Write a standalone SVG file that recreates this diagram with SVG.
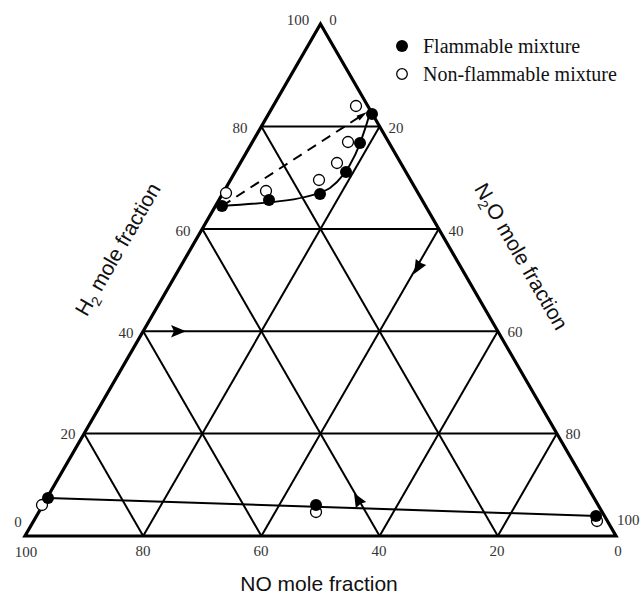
<svg xmlns="http://www.w3.org/2000/svg" width="640" height="595" viewBox="0 0 640 595">
<style>
.tick{font-family:"Liberation Serif",serif;font-size:15px;fill:#333}
.leg{font-family:"Liberation Serif",serif;font-size:20px;fill:#111}
.ax{font-family:"Liberation Sans",Arial,sans-serif;font-size:21px;fill:#111}
.grid{stroke:#000;stroke-width:2;fill:none}
.fr{stroke:#000;stroke-width:3.2;fill:none;stroke-linejoin:miter}
.f{fill:#000}
.o{fill:#fff;stroke:#000;stroke-width:1.3}
.cv{stroke:#000;stroke-width:2;fill:none}
.ah{fill:#000}
</style>
<rect width="640" height="595" fill="#fff"/>
<g id="grid">
<line class="grid" x1="84.1" y1="433.6" x2="556.9" y2="433.6"/>
<line class="grid" x1="143.2" y1="331.3" x2="497.8" y2="331.3"/>
<line class="grid" x1="202.3" y1="228.9" x2="438.7" y2="228.9"/>
<line class="grid" x1="261.4" y1="126.6" x2="379.6" y2="126.6"/>
<line class="grid" x1="143.2" y1="536" x2="379.6" y2="126.6"/>
<line class="grid" x1="261.4" y1="536" x2="438.7" y2="228.9"/>
<line class="grid" x1="379.6" y1="536" x2="497.8" y2="331.3"/>
<line class="grid" x1="497.8" y1="536" x2="556.9" y2="433.6"/>
<line class="grid" x1="497.8" y1="536" x2="261.4" y2="126.6"/>
<line class="grid" x1="379.6" y1="536" x2="202.3" y2="228.9"/>
<line class="grid" x1="261.4" y1="536" x2="143.2" y2="331.3"/>
<line class="grid" x1="143.2" y1="536" x2="84.1" y2="433.6"/>
</g>
<g id="frame">
<polygon class="fr" points="320.5,24 616,536 25,536"/>
</g>
<g id="connectors">
<polygon class="ah" points="171,325 186,331.3 171,337.6 174,331.3"/>
<polygon class="ah" points="414,274 426.2,264.9 421,263 415.8,258.9"/>
<polygon class="ah" points="354,493 366.2,502.1 361,503.5 355.8,508.1"/>
<path class="cv" d="M222,206 C270,203 310,200 330,188 C352,172 362,140 370,113"/>
<path d="M222,206 L360,116.5" stroke="#000" stroke-width="2" stroke-dasharray="10,7" fill="none"/>
<polygon class="ah" points="367,112 359.6,120.4 356.5,115.7"/>
<line x1="48" y1="498" x2="597" y2="516" stroke="#000" stroke-width="2"/>
</g>
<g id="points">
<circle class="o" cx="226" cy="193" r="5.5"/>
<circle class="o" cx="266" cy="191" r="5.5"/>
<circle class="o" cx="319" cy="180" r="5.5"/>
<circle class="o" cx="337" cy="163" r="5.5"/>
<circle class="o" cx="348" cy="142" r="5.5"/>
<circle class="o" cx="356" cy="106" r="5.5"/>
<circle class="f" cx="222" cy="206" r="6"/>
<circle class="f" cx="269" cy="200" r="6"/>
<circle class="f" cx="320" cy="194" r="6"/>
<circle class="f" cx="346" cy="172" r="6"/>
<circle class="f" cx="360" cy="143" r="6"/>
<circle class="f" cx="372" cy="114" r="6"/>
<circle class="o" cx="42" cy="505" r="5.5"/>
<circle class="o" cx="316" cy="512" r="5.5"/>
<circle class="o" cx="597" cy="521" r="5.5"/>
<circle class="f" cx="48" cy="498" r="6"/>
<circle class="f" cx="316" cy="505" r="6"/>
<circle class="f" cx="596" cy="516" r="6"/>
</g>
<g id="ticks">
<text class="tick" x="298" y="25" text-anchor="middle">100</text>
<text class="tick" x="333" y="25" text-anchor="middle">0</text>
<text class="tick" x="240" y="133" text-anchor="middle">80</text>
<text class="tick" x="183" y="236" text-anchor="middle">60</text>
<text class="tick" x="126" y="338" text-anchor="middle">40</text>
<text class="tick" x="68" y="439" text-anchor="middle">20</text>
<text class="tick" x="18" y="527" text-anchor="middle">0</text>
<text class="tick" x="396" y="133" text-anchor="middle">20</text>
<text class="tick" x="456" y="236" text-anchor="middle">40</text>
<text class="tick" x="515" y="337" text-anchor="middle">60</text>
<text class="tick" x="573" y="439" text-anchor="middle">80</text>
<text class="tick" x="617" y="525">100</text>
<text class="tick" x="26" y="557" text-anchor="middle">100</text>
<text class="tick" x="143" y="556" text-anchor="middle">80</text>
<text class="tick" x="261" y="556" text-anchor="middle">60</text>
<text class="tick" x="379" y="556" text-anchor="middle">40</text>
<text class="tick" x="497" y="556" text-anchor="middle">20</text>
<text class="tick" x="618" y="556" text-anchor="middle">0</text>
</g>
<g id="titles">
<text class="ax" x="319" y="591" text-anchor="middle">NO mole fraction</text>
<text class="ax" text-anchor="middle" transform="translate(124,253) rotate(-60)">H<tspan font-size="14" dy="5">2</tspan><tspan dy="-5"> mole fraction</tspan></text>
<text class="ax" text-anchor="middle" transform="translate(515,260) rotate(60)">N<tspan font-size="14" dy="5">2</tspan><tspan dy="-5">O mole fraction</tspan></text>
</g>
<g id="legend">
<circle class="f" cx="402" cy="46" r="6"/>
<text class="leg" x="423" y="53">Flammable mixture</text>
<circle class="o" cx="402" cy="74" r="5.3"/>
<text class="leg" x="423" y="81">Non-flammable mixture</text>
</g>
</svg>
